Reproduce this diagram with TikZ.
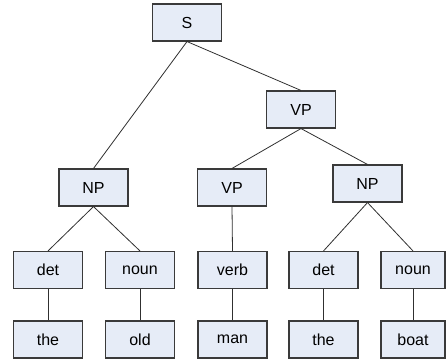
\documentclass[tikz,border=0pt]{standalone}
\usepackage{fontspec}
\setmainfont{Liberation Sans}
\definecolor{boxfill}{HTML}{E6ECF7}
\definecolor{boxdraw}{HTML}{3A3A3A}
\definecolor{edgecol}{HTML}{303030}
\begin{document}
\begin{tikzpicture}[x=1pt,y=1pt,
  tb/.style={draw=boxdraw,fill=boxfill,line width=1.1pt,minimum width=69pt,minimum height=37pt,inner sep=0pt,font=\fontsize{16}{19}\selectfont},
  edge/.style={draw=edgecol,line width=0.8pt}]
\useasboundingbox (0,0) rectangle (446,-362);
\node[tb] (S) at (187,-22.5) {S};
\node[tb] (VPt) at (301,-109.5) {VP};
\node[tb] (NPl) at (93.5,-187.5) {NP};
\node[tb] (VPm) at (232,-187.5) {VP};
\node[tb] (NPr) at (367.5,-183.5) {NP};
\node[tb] (det1) at (48,-270) {det};
\node[tb] (noun1) at (140,-270) {noun};
\node[tb] (verb) at (232.5,-270) {verb};
\node[tb] (det2) at (323.5,-270) {det};
\node[tb,minimum width=64pt] (noun2) at (413,-270) {noun};
\node[tb] (the1) at (48,-339.5) {the};
\node[tb] (old) at (140,-339.5) {old};
\node[tb] (man) at (232.5,-339.5) {man};
\node[tb] (the2) at (323.5,-339.5) {the};
\node[tb,minimum width=64pt] (boat) at (413,-339.5) {boat};
\draw[edge] (S.south) -- (NPl.north);
\draw[edge] (S.south) -- (VPt.north);
\draw[edge] (VPt.south) -- (VPm.north);
\draw[edge] (VPt.south) -- (NPr.north);
\draw[edge] (NPl.south) -- (det1.north);
\draw[edge] (NPl.south) -- (noun1.north);
\draw[edge] (VPm.south) -- (verb.north);
\draw[edge] (NPr.south) -- (det2.north);
\draw[edge] (NPr.south) -- (noun2.north);
\draw[edge] (det1.south) -- (the1.north);
\draw[edge] (noun1.south) -- (old.north);
\draw[edge] (verb.south) -- (man.north);
\draw[edge] (det2.south) -- (the2.north);
\draw[edge] (noun2.south) -- (boat.north);
\end{tikzpicture}
\end{document}
